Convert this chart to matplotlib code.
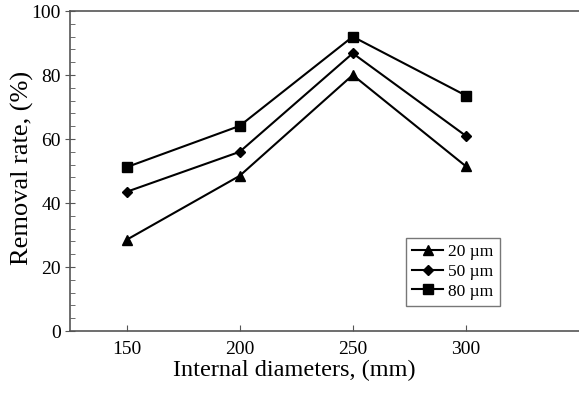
import matplotlib
matplotlib.use("Agg")
import matplotlib.pyplot as plt
from matplotlib.ticker import MultipleLocator

plt.rcParams['font.family'] = ['Liberation Serif', 'DejaVu Serif']

diameters = [150, 200, 250, 300]
series_labels = ['20 µm', '50 µm', '80 µm']
rate_20 = [28.5, 48.5, 80.0, 51.5]
rate_50 = [43.5, 56.0, 86.8, 61.0]
rate_80 = [51.2, 64.1, 92.0, 73.6]
markers = ['^', 'D', 's']

fig = plt.figure(figsize=(5.79, 3.96), dpi=100)
ax = fig.add_axes([0.1209, 0.1641, 0.879, 0.808])

for vals, lab, m in zip([rate_20, rate_50, rate_80], series_labels, markers):
    ms = 7 if m != 'D' else 5.5
    ax.plot(diameters, vals, color='black', lw=1.5, marker=m, ms=ms, label=lab)

ax.set_xlim(125, 350)
ax.set_ylim(0, 100)
ax.set_xticks(diameters)
ax.yaxis.set_major_locator(MultipleLocator(20))
ax.yaxis.set_minor_locator(MultipleLocator(4))
ax.spines['right'].set_visible(False)
for s in ['left', 'bottom', 'top']:
    ax.spines[s].set_color('#555555')
    ax.spines[s].set_linewidth(1.2)
ax.tick_params(axis='x', direction='in', length=4, color='#555555', labelsize=14, pad=7)
ax.tick_params(axis='y', which='major', direction='inout', length=7, color='#555555', labelsize=14, pad=3)
ax.tick_params(axis='y', which='minor', direction='in', length=3.5, color='#555555')

ax.set_xlabel('Internal diameters, (mm)', fontsize=17.5)
ax.set_ylabel('Removal rate, (%)', fontsize=19)
ax.xaxis.set_label_coords((294 - 70) / 509, -(370 - 331) / 320, transform=ax.transAxes)
ax.yaxis.set_label_coords(-(70 - 22) / 509, 0.51, transform=ax.transAxes)
ax.xaxis.label.set_va('center')
ax.yaxis.label.set_va('center')

leg = ax.legend(loc='upper left', bbox_to_anchor=((406 - 70) / 509, (331 - 238) / 320), fontsize=12.5,
                frameon=True, fancybox=False, edgecolor='#555555',
                handlelength=1.8, borderpad=0.35, labelspacing=0.2, handletextpad=0.3,
                borderaxespad=0)
leg.get_frame().set_linewidth(1.0)

fig.savefig('out.png', dpi=100)
